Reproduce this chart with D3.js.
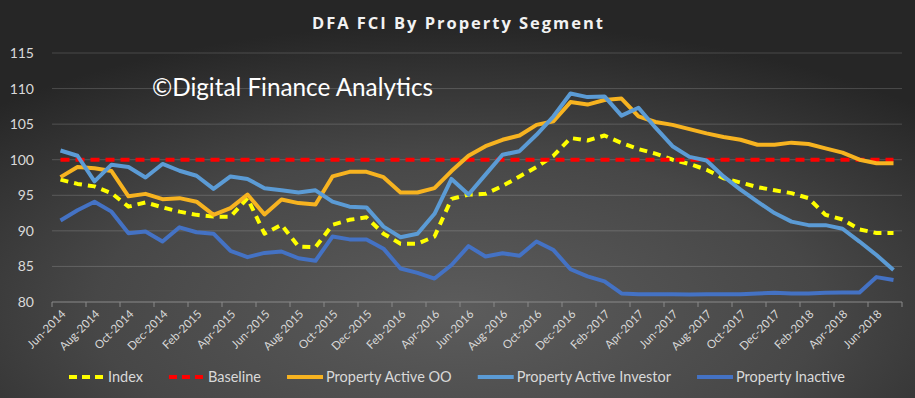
<!DOCTYPE html>
<html>
<head>
<meta charset="utf-8">
<script src="https://cdn.jsdelivr.net/npm/d3@7"></script>
<style>
  html, body { margin: 0; padding: 0; background: #333; }
  svg { display: block; }
</style>
</head>
<body>
<div id="chart"></div>
<script>

// months (categories)
const months = [
	"Jun-2014","Jul-2014","Aug-2014","Sep-2014","Oct-2014","Nov-2014","Dec-2014",
	"Jan-2015","Feb-2015","Mar-2015","Apr-2015","May-2015","Jun-2015","Jul-2015","Aug-2015","Sep-2015","Oct-2015","Nov-2015","Dec-2015",
	"Jan-2016","Feb-2016","Mar-2016","Apr-2016","May-2016","Jun-2016","Jul-2016","Aug-2016","Sep-2016","Oct-2016","Nov-2016","Dec-2016",
	"Jan-2017","Feb-2017","Mar-2017","Apr-2017","May-2017","Jun-2017","Jul-2017","Aug-2017","Sep-2017","Oct-2017","Nov-2017","Dec-2017",
	"Jan-2018","Feb-2018","Mar-2018","Apr-2018","May-2018","Jun-2018","Jul-2018"
];

// series values
const indexVals = [
	97.2, 96.6, 96.25, 95.3, 93.4, 94.0, 93.3, 92.7, 92.25, 92.0, 92.0,
	94.6, 89.6, 90.85, 87.8, 87.7, 90.85, 91.55, 91.9, 89.6, 88.2,
	88.2, 89.2, 94.5, 95.1, 95.2, 96.3, 97.65, 98.97, 100.56, 103.05,
	102.7, 103.4, 102.35, 101.5, 100.85, 100.0, 99.4, 98.6, 97.4, 96.8,
	96.15, 95.7, 95.3, 94.6, 92.25, 91.6, 90.2, 89.7, 89.7
];
const baselineVals = months.map(() => 100);
const activeOO = [
	97.55, 98.97, 98.8, 98.4, 94.85, 95.2, 94.45, 94.6, 94.1, 92.25, 93.2,
	95.1, 92.3, 94.4, 93.9, 93.7, 97.65, 98.3, 98.3, 97.55, 95.4,
	95.4, 96.0, 98.4, 100.56, 101.9, 102.8, 103.4, 104.9, 105.4, 108.1,
	107.75, 108.4, 108.6, 106.1, 105.3, 104.9, 104.3, 103.7, 103.2, 102.8,
	102.1, 102.1, 102.4, 102.2, 101.6, 101.0, 100.0, 99.5, 99.5
];
const activeInvestor = [
	101.3, 100.56, 96.95, 99.3, 98.97, 97.5, 99.4, 98.45, 97.75, 95.9, 97.65,
	97.3, 96.0, 95.7, 95.4, 95.7, 94.1, 93.4, 93.3, 90.6, 89.1,
	89.6, 92.4, 97.3, 95.1, 97.9, 100.7, 101.2, 103.5, 106.1, 109.3,
	108.8, 108.9, 106.2, 107.3, 104.5, 101.9, 100.4, 99.9, 97.65, 95.8,
	94.1, 92.5, 91.3, 90.8, 90.8, 90.3, 88.5, 86.6, 84.5
];
const inactive = [
	91.45, 92.9, 94.1, 92.7, 89.67, 89.9, 88.5, 90.5, 89.8, 89.6, 87.2,
	86.3, 86.9, 87.1, 86.15, 85.8, 89.2, 88.8, 88.8, 87.5, 84.7,
	84.1, 83.3, 85.2, 87.85, 86.4, 86.85, 86.5, 88.5, 87.3, 84.6,
	83.6, 82.9, 81.2, 81.1, 81.1, 81.1, 81.05, 81.1, 81.1, 81.1,
	81.2, 81.3, 81.2, 81.2, 81.3, 81.35, 81.35, 83.5, 83.1
];

// y ticks
const yTicks = [80, 85, 90, 95, 100, 105, 110, 115];

const series = [
	{name: "Index", values: indexVals, color: "#ffff00", dash: "8,6"},
	{name: "Baseline", values: baselineVals, color: "#ff0000", dash: "9,6"},
	{name: "Property Active OO", values: activeOO, color: "#f7b320", dash: null},
	{name: "Property Active Investor", values: activeInvestor, color: "#5b9bd5", dash: null},
	{name: "Property Inactive", values: inactive, color: "#4472c4", dash: null}
];

const width = 915, height = 398;
const plotLeft = 52, plotRight = 902, plotTop = 53, plotBottom = 302;

const svg = d3.select("#chart").append("svg")
	.attr("width", width)
	.attr("height", height);

// background gradient
const defs = svg.append("defs");
const grad = defs.append("radialGradient")
	.attr("id", "bg")
	.attr("cx", "50%").attr("cy", "78%")
	.attr("r", "72%");
grad.append("stop").attr("offset", "0%").attr("stop-color", "#5c5c5c");
grad.append("stop").attr("offset", "55%").attr("stop-color", "#474747");
grad.append("stop").attr("offset", "100%").attr("stop-color", "#262626");

svg.append("rect")
	.attr("width", width).attr("height", height)
	.attr("fill", "url(#bg)");

const sx = d3.scaleBand()
	.domain(months)
	.range([plotLeft, plotRight]);
const sy = d3.scaleLinear()
	.domain([80, 115])
	.range([plotBottom, plotTop]);

const cx = m => sx(m) + sx.bandwidth() / 2;

// gridlines
svg.append("g")
	.selectAll("line")
	.data(yTicks.filter(d => d > 80))
	.enter()
	.append("line")
	.attr("x1", plotLeft).attr("x2", plotRight)
	.attr("y1", d => sy(d)).attr("y2", d => sy(d))
	.attr("stroke", "#ffffff")
	.attr("stroke-opacity", 0.17)
	.attr("stroke-width", 1);

// y axis labels
const yAxis = d3.axisLeft(sy)
	.tickValues(yTicks)
	.tickSize(0)
	.tickPadding(0);
const gy = svg.append("g")
	.attr("transform", "translate(34,0)")
	.call(yAxis);
gy.select(".domain").remove();
gy.selectAll("text")
	.attr("fill", "#d9d9d9")
	.style("font-family", "Lato, 'Open Sans', sans-serif")
	.style("font-size", "14px");

// x axis line + ticks at every other category boundary
const gx = svg.append("g");
gx.append("line")
	.attr("x1", plotLeft).attr("x2", plotRight)
	.attr("y1", plotBottom).attr("y2", plotBottom)
	.attr("stroke", "#8a8a8a").attr("stroke-width", 1);
const tickXs = months.filter((d, i) => i % 2 === 0).map(d => sx(d)).concat([plotRight]);
gx.selectAll(".tk")
	.data(tickXs)
	.enter()
	.append("line")
	.attr("class", "tk")
	.attr("x1", d => d).attr("x2", d => d)
	.attr("y1", plotBottom).attr("y2", plotBottom + 5)
	.attr("stroke", "#8a8a8a").attr("stroke-width", 1);

gx.selectAll(".xl")
	.data(months.filter((d, i) => i % 2 === 0))
	.enter()
	.append("text")
	.attr("class", "xl")
	.attr("transform", d => `translate(${cx(d) + 3},${plotBottom + 10}) rotate(-45)`)
	.attr("text-anchor", "end")
	.attr("dy", "0.35em")
	.attr("fill", "#d9d9d9")
	.style("font-family", "Lato, 'Open Sans', sans-serif")
	.style("font-size", "11.5px")
	.text(d => d);

// lines
const line = d3.line()
	.x((d, i) => cx(months[i]))
	.y(d => sy(d))
	.curve(d3.curveLinear);

svg.append("g")
	.selectAll("path")
	.data(series)
	.enter()
	.append("path")
	.attr("d", d => line(d.values))
	.attr("fill", "none")
	.attr("stroke", d => d.color)
	.attr("stroke-width", 4)
	.attr("stroke-linejoin", "round")
	.attr("stroke-dasharray", d => d.dash);

// title
svg.append("text")
	.attr("x", 457.5).attr("y", 29)
	.attr("text-anchor", "middle")
	.attr("fill", "#f2f2f2")
	.attr("textLength", 291)
	.attr("lengthAdjust", "spacing")
	.style("font-family", "'Open Sans', Lato, sans-serif")
	.style("font-weight", "bold")
	.style("font-size", "16.5px")
	.text("DFA FCI By Property Segment");

// watermark
svg.append("text")
	.attr("x", 152).attr("y", 96)
	.attr("fill", "#ffffff")
	.attr("textLength", 281)
	.attr("lengthAdjust", "spacingAndGlyphs")
	.style("font-family", "Lato, 'Open Sans', sans-serif")
	.style("font-size", "25px")
	.text("\u00a9Digital Finance Analytics");

// legend
const legend = svg.append("g").attr("transform", "translate(0,377)");
let lx = 69;
series.forEach(s => {
	const g = legend.append("g").attr("transform", `translate(${lx},0)`);
	g.append("line")
		.attr("x1", 0).attr("x2", 36)
		.attr("y1", 0).attr("y2", 0)
		.attr("stroke", s.color)
		.attr("stroke-width", 4)
		.attr("stroke-dasharray", s.dash ? "8,5" : null);
	const t = g.append("text")
		.attr("x", 39).attr("y", 0)
		.attr("dy", "0.35em")
		.attr("fill", "#d9d9d9")
		.style("font-family", "Lato, 'Open Sans', sans-serif")
		.style("font-size", "14.5px")
		.text(s.name);
	lx += 39 + t.node().getComputedTextLength() + 26;
});

</script>
</body>
</html>
